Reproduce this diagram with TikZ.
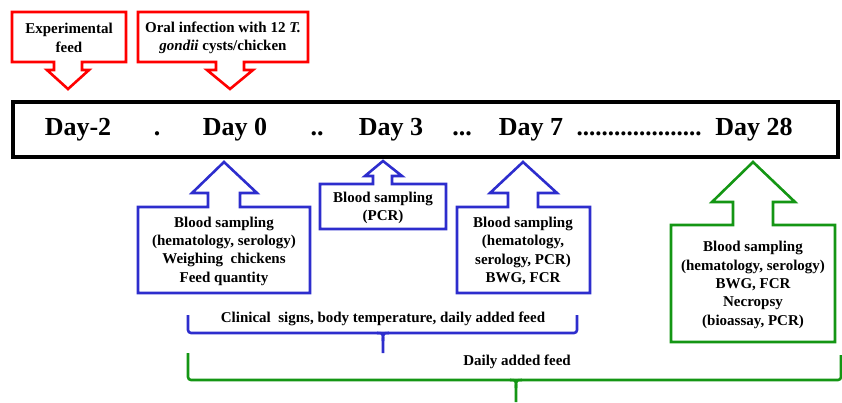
\documentclass[tikz,border=0pt]{standalone}
\usepackage{fontspec}
\setmainfont{Liberation Serif}
\definecolor{cred}{RGB}{255,0,0}
\definecolor{cblue}{RGB}{45,45,205}
\definecolor{cgreen}{RGB}{20,150,20}
\begin{document}
\begin{tikzpicture}[x=1pt,y=-1pt,
  boxtext/.style={font=\fontsize{15}{18.3}\selectfont\bfseries, align=center, inner sep=0pt},
  daytext/.style={font=\fontsize{26}{30}\selectfont\bfseries, anchor=base, inner sep=0pt},
  redline/.style={draw=cred, line width=2.6pt, line join=miter},
  blueline/.style={draw=cblue, line width=2.6pt, line join=miter},
  greenline/.style={draw=cgreen, line width=2.6pt, line join=miter},
  bracelbl/.style={font=\fontsize{15}{17}\selectfont\bfseries, inner sep=0pt}]
\useasboundingbox (0,0) rectangle (842,402);

% timeline
\node[draw=black, line width=4pt, minimum width=825pt, minimum height=55pt, inner sep=0pt] (tl) at (425.5,129.5) {};
\node[daytext] (d2) at (78,135) {Day-2};
\node[daytext] (dot1) at (157,135) {.};
\node[daytext] (d0) at (235,135) {Day 0};
\node[daytext] (dot2) at (317,135) {..};
\node[daytext] (d3) at (391,135) {Day 3};
\node[daytext] (dot3) at (462,135) {...};
\node[daytext] (d7) at (531,135) {Day 7};
\node[daytext] (dot4) at (639,135) {\fontsize{25}{28}\selectfont....................};
\node[daytext] (d28) at (754,135) {Day 28};

% red callouts (down arrows)
\draw[redline] (12,12) -- (126,12) -- (126,62) -- (82,62) -- (82,70) -- (89,70) -- (68,89) -- (47,70) -- (54,70) -- (54,62) -- (12,62) -- cycle;
\node[boxtext] (r1) at (69,38) {Experimental\\feed};
\draw[redline] (138,12) -- (308,12) -- (308,62) -- (244,62) -- (244,70) -- (253,70) -- (230,89) -- (207,70) -- (216,70) -- (216,62) -- (138,62) -- cycle;
\node[boxtext] (r2) at (223,38) {Oral infection with 12 \textit{T.}\\\textit{gondii} cysts/chicken};

% blue callouts (up arrows)
\draw[blueline] (138,293) -- (138,207) -- (208,207) -- (208,193) -- (192,193) -- (224,162) -- (257,193) -- (240,193) -- (240,207) -- (310,207) -- (310,293) -- cycle;
\node[boxtext] (b0) at (224,251) {Blood sampling\\(hematology, serology)\\Weighing\ \ chickens\\Feed quantity};

\draw[blueline] (320,229) -- (320,184) -- (373,184) -- (373,176) -- (365,176) -- (383,161) -- (402,176) -- (392,176) -- (392,184) -- (446,184) -- (446,229) -- cycle;
\node[boxtext] (b3) at (383,208) {Blood sampling\\(PCR)};

\draw[blueline] (457,293) -- (457,207) -- (508,207) -- (508,193) -- (490,193) -- (523,162) -- (557,193) -- (538,193) -- (538,207) -- (590,207) -- (590,293) -- cycle;
\node[boxtext] (b7) at (523,251) {Blood sampling\\(hematology,\\serology, PCR)\\BWG, FCR};

% green callout
\draw[greenline] (671,342) -- (671,225) -- (733,225) -- (733,202) -- (712,202) -- (753,162) -- (795,202) -- (773,202) -- (773,225) -- (835,225) -- (835,342) -- cycle;
\node[boxtext] (g28) at (753,285) {Blood sampling\\(hematology, serology)\\BWG, FCR\\Necropsy\\(bioassay, PCR)};

% braces
\coordinate (bl) at (188,315);
\coordinate (br) at (577,315);
\coordinate (bt) at (383,353);
\draw[blueline, rounded corners=3pt] (bl) -- (188,333) -- (577,333) -- (br);
\draw[blueline] (377,333) .. controls (383,333) .. (383,341) -- (bt);
\draw[blueline] (389,333) .. controls (383,333) .. (383,341);
\node[bracelbl] (bll) at (383,319) {Clinical\ \ signs, body temperature, daily added feed};

\coordinate (gl) at (188,353);
\coordinate (gr) at (841,355);
\coordinate (gt) at (516,402);
\draw[greenline, rounded corners=3pt] (gl) -- (188,380) -- (841,380) -- (gr);
\draw[greenline] (510,380) .. controls (516,380) .. (516,388) -- (gt);
\draw[greenline] (522,380) .. controls (516,380) .. (516,388);
\node[bracelbl] (gll) at (517,362) {Daily added feed};
\end{tikzpicture}
\end{document}
